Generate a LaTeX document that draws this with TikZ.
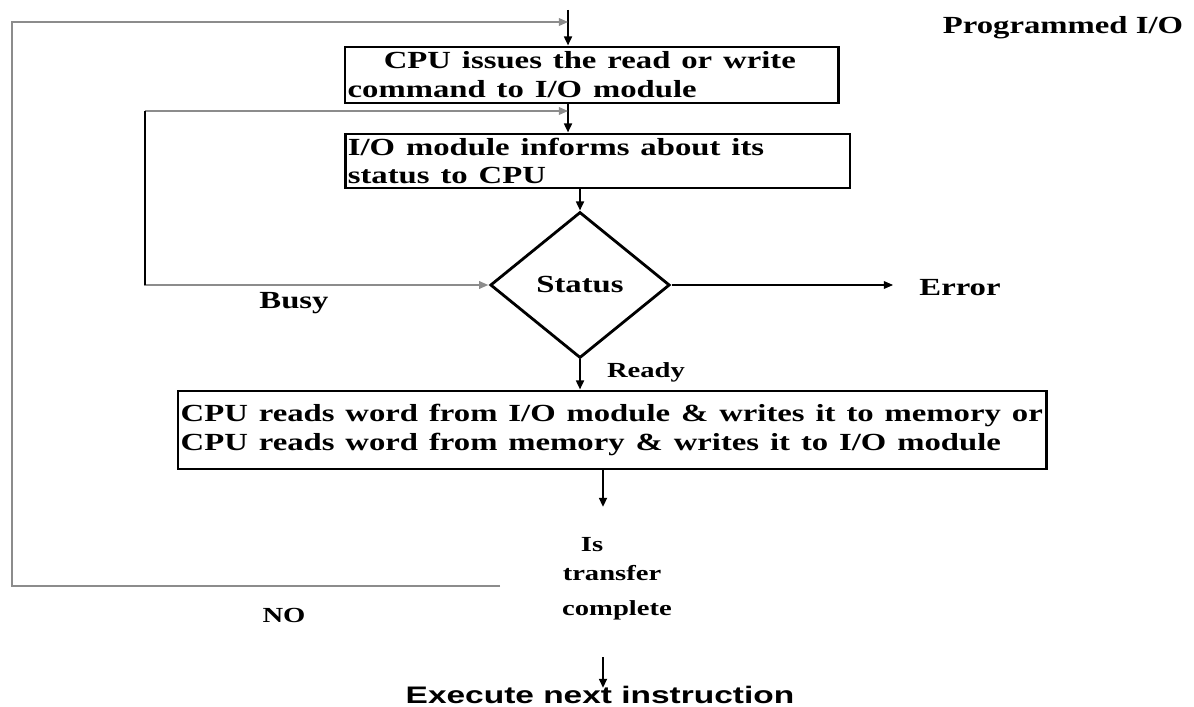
\documentclass[tikz,border=0pt]{standalone}
\usepackage{fontspec}
\setmainfont{Liberation Serif}
\setsansfont{Liberation Sans}
\usepackage{tikz}
\usetikzlibrary{shapes.geometric, arrows.meta, positioning}
\usetikzlibrary{calc}

\begin{document}
\begin{tikzpicture}[
		>={Triangle[length=6.5pt,width=5.5pt]},
		big/.style={font=\bfseries\fontsize{17.5}{20.5}\selectfont, xscale=1.33, inner sep=0pt},
		small/.style={font=\bfseries\fontsize{15.3}{17}\selectfont, xscale=1.33, inner sep=0pt},
		box/.style={draw, line width=2pt, big, align=left, inner xsep=0.05cm},
		flow/.style={line width=2pt, ->},
		loopline/.style={draw=black!45, line width=0.9pt, ->}]
		\useasboundingbox (0,0) rectangle (29.85,-17.675);

		\draw (14.79cm,-1.875cm) node[box, text width=9.17cm, minimum height=1.4cm] (cmd)
			{\hspace*{0.68cm}CPU issues the read or write\\command to I/O module}
		(14.94cm,-4.025cm) node[box, text width=9.39cm, minimum height=1.35cm] (inform)
			{I/O module informs about its\\status to CPU}
		(14.5cm,-7.125cm) node[diamond, draw, line width=2pt, big, minimum width=3.38cm, minimum height=3.65cm] (status) {Status}
		(15.31cm,-10.75cm) node[box, text width=16.23cm, minimum height=1.95cm] (rw)
			{CPU reads word from I/O module \& writes it to memory or\\CPU reads word from memory \& writes it to I/O module};

		\draw (14.8cm,-13.625cm) node[small] (is) {Is}
		(15.3cm,-14.325cm) node[small] (transfer) {transfer}
		(15.425cm,-15.25cm) node[small] (complete) {complete}
		(7.35cm,-7.575cm) node[big] (busy) {Busy}
		(16.15cm,-9.3cm) node[small] (ready) {Ready}
		(24.0cm,-7.2cm) node[big] (error) {Error}
		(7.1cm,-15.375cm) node[small] (no) {NO}
		(26.575cm,-0.7cm) node[big] (title) {Programmed I/O}
		(15.0cm,-17.375cm) node[inner sep=0pt, xscale=1.4, font=\sffamily\bfseries\fontsize{17}{20}\selectfont] (exec) {Execute next instruction};

		\coordinate (start) at (14.2cm,-0.25cm);
		\coordinate (j1) at (14.2cm,-0.55cm);
		\coordinate (c1) at (0.3cm,-0.55cm);
		\coordinate (nofree) at (12.5cm,-14.65cm);
		\coordinate (j2) at (14.2cm,-2.775cm);
		\coordinate (c2) at (3.625cm,-2.775cm);
		\coordinate (errend) at (22.325cm,-7.125cm);
		\coordinate (down) at (15.075cm,-12.675cm);
		\coordinate (last) at (15.075cm,-16.425cm);

		\draw[flow] (start) -- (start |- cmd.north);
		\draw[flow] (cmd.south -| start) -- (inform.north -| start);
		\draw[flow] (inform.south -| status.north) -- (status.north);
		\draw[flow] (status.south) -- (status.south |- rw.north);
		\draw[flow] (rw.south -| down) -- (down);
		\draw[flow] (last) -- ($(last |- exec.north)+(0,-0.05)$);
		\draw[->, line width=0.8pt] (status.east) -- (errend);

		\draw[loopline] (nofree) -| (c1) -- (j1);
		\draw[loopline] (c2) -- (j2);
		\draw[loopline] (c2) |- (status.west);
		\draw[line width=1.2pt] (c2) -- (c2 |- status.west);
	\end{tikzpicture}
\end{document}
